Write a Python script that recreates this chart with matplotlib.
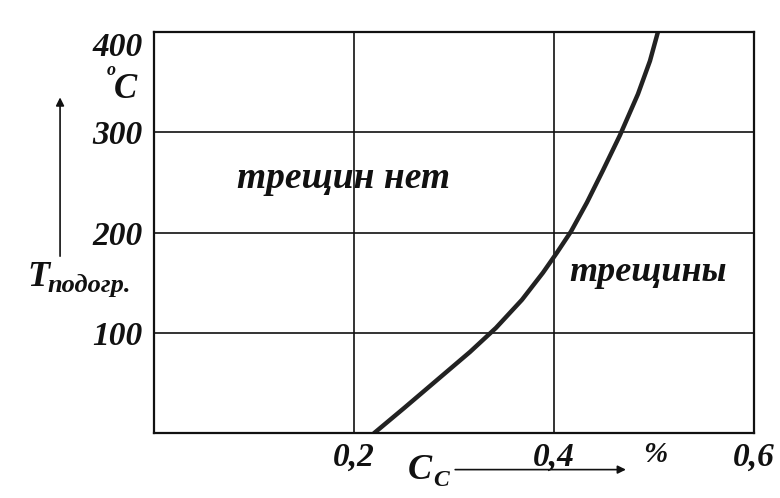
import matplotlib.pyplot as plt
from matplotlib.patches import FancyArrowPatch

# carbon content, % and preheat temperature, C
carbon = [0.220, 0.250, 0.283, 0.316, 0.342, 0.368, 0.389, 0.403, 0.417,
          0.433, 0.449, 0.466, 0.484, 0.496, 0.504]
temp = [0, 25, 53, 81, 105, 133, 160, 180, 201, 230, 262, 297, 338, 371, 400]

xticks = [0.2, 0.4, 0.6]
xlabels = ['0,2', '0,4', '0,6']
yticks = [100, 200, 300, 400]
ylabels = ['100', '200', '300', '400']

plt.rcParams['font.family'] = ['Liberation Serif', 'DejaVu Serif']
font = dict(style='italic', weight='bold', color='#111111')

fig = plt.figure(figsize=(7.8, 4.98), dpi=100)
ax = fig.add_axes([0.1974, 0.13, 0.7692, 0.806])

ax.plot(carbon, temp, color='#222222', lw=3.2, solid_capstyle='round',
        solid_joinstyle='round')

ax.set_xlim(0, 0.6)
ax.set_ylim(0, 400)
ax.set_xticks(xticks)
ax.set_xticklabels(xlabels, fontsize=24, **font)
ax.set_yticks(yticks)
ax.set_yticklabels(ylabels, fontsize=24, **font)
ax.get_yticklabels()[-1].set_va('top')
ax.tick_params(axis='y', length=0, pad=8)
ax.tick_params(axis='x', length=0, pad=6)
ax.grid(True, color='#111111', lw=1.2)
for s in ax.spines.values():
    s.set_linewidth(1.6)
    s.set_color('#111111')

ax.text(0.19, 254, 'трещин нет', fontsize=27, ha='center', va='center', **font)
ax.text(0.494, 160, 'трещины', fontsize=26, ha='center', va='center', **font)

# axis captions
fig.text(0.142, 0.85, 'o', fontsize=13, ha='center', va='baseline', **font)
fig.text(0.146, 0.803, 'C', fontsize=25, ha='left', va='baseline', **font)
fig.text(0.035, 0.426, 'T', fontsize=26, ha='left', va='baseline', **font)
fig.text(0.061, 0.413, 'подогр.', fontsize=19, ha='left', va='baseline', **font)
fig.text(0.523, 0.055, 'C', fontsize=26, ha='left', va='center', **font)
fig.text(0.555, 0.036, 'C', fontsize=17, ha='left', va='center', **font)
fig.text(0.84, 0.087, '%', fontsize=21, ha='center', va='center', **font)

fig.patches.append(FancyArrowPatch(
    (0.077, 0.48), (0.077, 0.81), transform=fig.transFigure,
    arrowstyle='-|>', mutation_scale=12, lw=1.2, color='#111111'))
fig.patches.append(FancyArrowPatch(
    (0.58, 0.057), (0.806, 0.057), transform=fig.transFigure,
    arrowstyle='-|>', mutation_scale=12, lw=1.2, color='#111111'))

fig.savefig('out.png')
